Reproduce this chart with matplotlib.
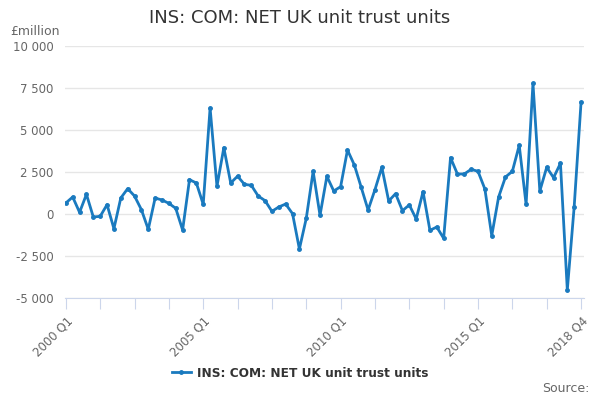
import numpy as np
import matplotlib.pyplot as plt
from matplotlib.ticker import FuncFormatter

# quarterly values, 2000 Q1 .. 2018 Q4, £million
values = [
    655, 1012, 99, 1170, -179, -139, 556, -873, 952, 1508,
    1071, 258, -913, 952, 833, 635, 337, -952, 2044, 1845,
    575, 6309, 1647, 3948, 1845, 2250, 1766, 1706, 1071, 794,
    159, 417, 595, 20, -2083, -258, 2540, -79, 2242, 1369,
    1627, 3809, 2916, 1587, 238, 1448, 2778, 774, 1210, 198,
    540, -298, 1329, -972, -774, -1448, 3353, 2381, 2381, 2659,
    2540, 1488, -1290, 1012, 2202, 2540, 4087, 575, 7777, 1369,
    2778, 2163, 3016, -4524, 436, 6646,
]
quarters = ["{} Q{}".format(2000 + i // 4, i % 4 + 1) for i in range(len(values))]
label_quarters = ["2000 Q1", "2005 Q1", "2010 Q1", "2015 Q1", "2018 Q4"]
y_ticks = [-5000, -2500, 0, 2500, 5000, 7500, 10000]

line_color = "#1a7abf"
text_color = "#333333"
tick_color = "#666666"

fig = plt.figure(figsize=(6, 4), dpi=100)
ax = fig.add_axes([0.108, 0.255, 0.865, 0.63])

x = np.arange(len(values))
ax.plot(x, values, color=line_color, linewidth=2, marker="o", markersize=2.5,
        label="INS: COM: NET UK unit trust units")

ax.set_xlim(-0.15, 75.4)
ax.set_ylim(-5000, 10000)
ax.set_yticks(y_ticks)
ax.yaxis.set_major_formatter(FuncFormatter(lambda v, p: "{:,.0f}".format(v).replace(",", " ")))
ax.grid(axis="y", color="#e6e6e6", linewidth=1)
ax.set_axisbelow(True)

tick_pos = list(range(0, len(values), 5))
ax.set_xticks(tick_pos)
ax.set_xticklabels([quarters[i] if quarters[i] in label_quarters else "" for i in tick_pos],
                   rotation=45, ha="right", rotation_mode="anchor")

for side in ["top", "right", "left"]:
    ax.spines[side].set_visible(False)
ax.spines["bottom"].set_color("#ccd6eb")
ax.tick_params(axis="x", colors="#ccd6eb", length=8, labelcolor=tick_color, labelsize=8.5, pad=4)
ax.tick_params(axis="y", length=0, labelcolor=tick_color, labelsize=8.5, pad=8)

fig.text(0.5, 0.955, "INS: COM: NET UK unit trust units", ha="center", va="center",
         fontsize=13, color=text_color)
fig.text(0.017, 0.922, "£million", ha="left", va="center", fontsize=9, color=tick_color)
fig.text(0.982, 0.028, "Source:", ha="right", va="center", fontsize=9, color=tick_color)

leg = fig.legend(loc="center", bbox_to_anchor=(0.5, 0.067), frameon=False,
                 handlelength=1.6, handletextpad=0.5, fontsize=8.7)
for t in leg.get_texts():
    t.set_fontweight("bold")
    t.set_color(text_color)

fig.savefig("out.png", dpi=100)
